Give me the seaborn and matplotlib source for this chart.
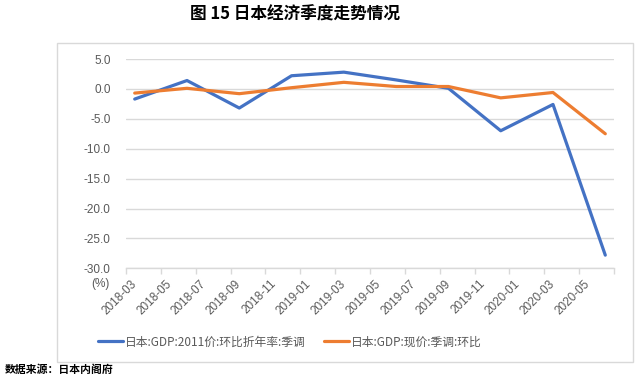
import matplotlib
matplotlib.use("Agg")
import matplotlib.pyplot as plt
import seaborn as sns
import pandas as pd
from matplotlib.patches import Rectangle
from matplotlib.lines import Line2D

# ---- data ----
quarters = ['2018-03', '2018-06', '2018-09', '2018-12', '2019-03',
            '2019-06', '2019-09', '2019-12', '2020-03', '2020-06']
gdp_real_saar = [-1.7, 1.4, -3.2, 2.2, 2.8, 1.5, 0.1, -7.0, -2.6, -27.8]
gdp_nominal_qoq = [-0.7, 0.1, -0.8, 0.2, 1.1, 0.4, 0.4, -1.5, -0.6, -7.5]
series_names = ['日本:GDP:2011价:环比折年率:季调', '日本:GDP:现价:季调:环比']
tick_labels = ['2018-03', '2018-05', '2018-07', '2018-09', '2018-11',
               '2019-01', '2019-03', '2019-05', '2019-07', '2019-09',
               '2019-11', '2020-01', '2020-03', '2020-05']
yticks = [5, 0, -5, -10, -15, -20, -25, -30]

def month_index(s):
    y, m = s.split('-')
    return (int(y) - 2018) * 12 + int(m) - 3

df = pd.DataFrame({
    'x': [month_index(q) for q in quarters] * 2,
    'value': gdp_real_saar + gdp_nominal_qoq,
    'series': [series_names[0]] * len(quarters) + [series_names[1]] * len(quarters),
})

sns.set_theme(style='white')
plt.rcParams['font.family'] = ['Noto Sans CJK SC', 'DejaVu Sans']

fig = plt.figure(figsize=(6.4, 3.83), dpi=100)
ax = fig.add_axes([126/640, 1-268.3/383, (614-126)/640, (268.3-59)/383])

palette = {series_names[0]: '#4472C4', series_names[1]: '#ED7D31'}
sns.lineplot(data=df, x='x', y='value', hue='series', palette=palette,
             linewidth=2.3, ax=ax, legend=False, zorder=3)

gray_txt = '#595959'
grid_c = '#d9d9d9'
ax.set_xlim(-0.5, 27.5)
ax.set_ylim(-30, 5)
ax.set_yticks(yticks)
ax.set_yticklabels([f'{v:.1f}' for v in yticks], family='Liberation Sans',
                   fontsize=8.5, color=gray_txt)
ax.yaxis.grid(True, color=grid_c, linewidth=1)
ax.tick_params(axis='y', length=0, pad=11)

ax.set_xticks([month_index(t) for t in tick_labels])
ax.set_xticklabels(tick_labels, rotation=45, ha='right', va='center',
                   rotation_mode='anchor', family='Liberation Sans',
                   fontsize=8.5, color=gray_txt)
ax.set_xticks([i - 0.5 for i in range(0, 29, 2)], minor=True)
ax.tick_params(axis='x', which='major', length=0, pad=10)
ax.tick_params(axis='x', which='minor', length=4, width=1, color=grid_c,
               direction='out', bottom=True)
ax.set_xlabel('')
ax.set_ylabel('')
for s in ['top', 'left', 'right']:
    ax.spines[s].set_visible(False)
ax.spines['bottom'].set_color(grid_c)
ax.spines['bottom'].set_linewidth(1)

# legend
handles = [Line2D([], [], color=palette[n], linewidth=2.3) for n in series_names]
fig.legend(handles, series_names, loc='center', bbox_to_anchor=(0.453, 1-342/383),
           ncol=2, frameon=False, fontsize=8.5, handlelength=2.1,
           handletextpad=0.15, columnspacing=1.6, labelcolor=gray_txt)

fig.text(110/640, 1-284/383, '(%)', ha='right', va='center',
         fontsize=8.5, color=gray_txt, family='Liberation Sans')

# chart frame
fig.patches.append(Rectangle((57/640, 1-361.7/383), (633-57)/640, (361.7-42.7)/383,
                             transform=fig.transFigure, fill=False,
                             edgecolor=grid_c, linewidth=1))

fig.text(295/640, 1-15/383, '图 15 日本经济季度走势情况', ha='center', va='center',
         fontsize=12, fontweight='bold', color='black')
fig.text(5/640, 1-370/383, '数据来源：日本内阁府', ha='left', va='center',
         fontsize=7.8, fontweight='bold', color='black')

fig.savefig('out.png', dpi=100)
